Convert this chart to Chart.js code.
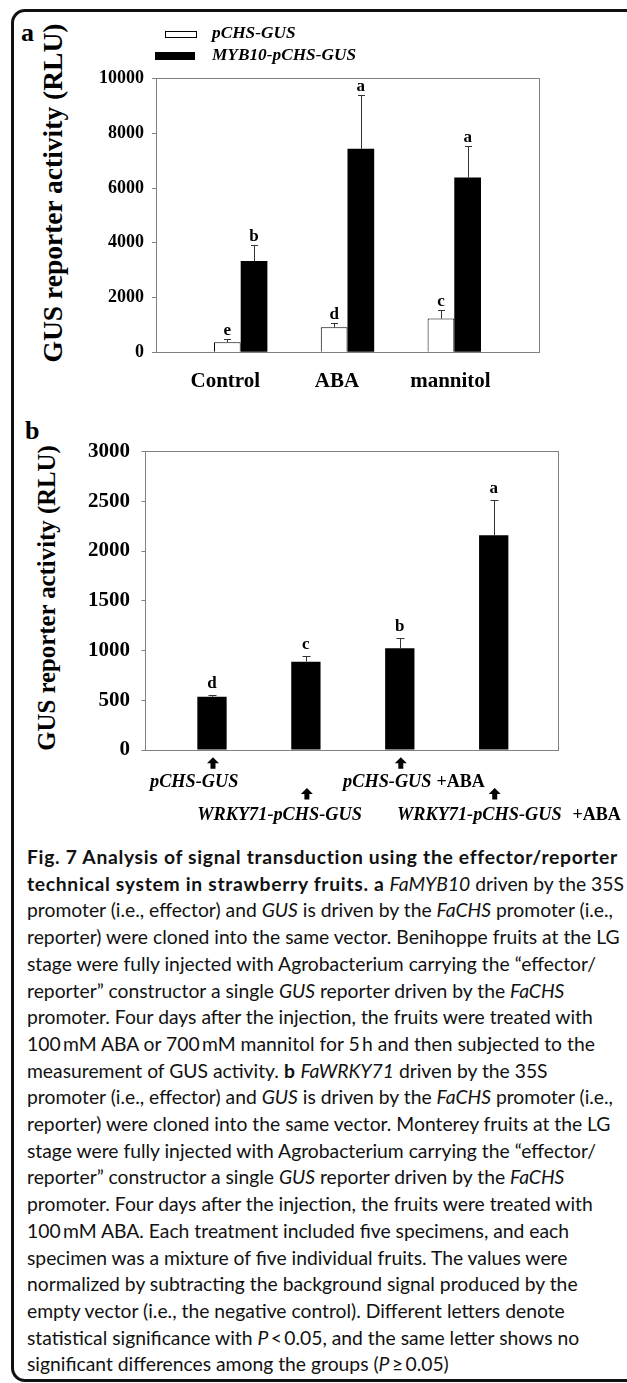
<!DOCTYPE html>
<html><head><meta charset="utf-8">
<script src="https://cdn.jsdelivr.net/npm/chart.js@4.4.1/dist/chart.umd.min.js"></script>
<style>
html,body{margin:0;padding:0;background:#fff;width:627px;height:1383px;overflow:hidden;position:relative;}
#frame{position:absolute;left:11px;top:9px;width:700px;height:1373px;border:3px solid #111;border-radius:14px;box-sizing:border-box;}
.plet{position:absolute;font-family:'Liberation Serif';font-weight:bold;font-size:26px;line-height:26px;color:#000;}
.ytitle{position:absolute;font-family:'Liberation Serif';font-weight:bold;white-space:nowrap;line-height:1;color:#000;transform:translate(-50%,-50%) rotate(-90deg);}
canvas{position:absolute;left:0;}
#cap{position:absolute;left:27px;top:844px;font-family:'Lato';line-height:26.7px;color:#111;white-space:nowrap;font-size:19.5px;}
#cap > div{display:block;width:max-content;}
</style></head>
<body>
<div id="frame"></div>
<div class="plet" style="left:21px;top:20px">a</div>
<div class="plet" style="left:25px;top:418px">b</div>
<div class="ytitle" style="left:53px;top:193px;font-size:27.5px">GUS reporter activity (RLU)</div>
<div class="ytitle" style="left:47px;top:598px;font-size:24.8px">GUS reporter activity (RLU)</div>
<canvas id="ca" width="627" height="400" style="top:0"></canvas>
<canvas id="cb" width="627" height="440" style="top:400px"></canvas>
<div id="cap">
<div id="l1"><b>Fig. 7 Analysis of signal transduction using the effector/reporter</b></div>
<div><b>technical system in strawberry fruits. a</b> <i>FaMYB10</i> driven by the 35S</div>
<div>promoter (i.e., effector) and <i>GUS</i> is driven by the <i>FaCHS</i> promoter (i.e.,</div>
<div id="l4">reporter) were cloned into the same vector. Benihoppe fruits at the LG</div>
<div>stage were fully injected with Agrobacterium carrying the “effector/</div>
<div>reporter” constructor a single <i>GUS</i> reporter driven by the <i>FaCHS</i></div>
<div>promoter. Four days after the injection, the fruits were treated with</div>
<div>100&#8201;mM ABA or 700&#8201;mM mannitol for 5&#8201;h and then subjected to the</div>
<div>measurement of GUS activity. <b>b</b> <i>FaWRKY71</i> driven by the 35S</div>
<div>promoter (i.e., effector) and <i>GUS</i> is driven by the <i>FaCHS</i> promoter (i.e.,</div>
<div>reporter) were cloned into the same vector. Monterey fruits at the LG</div>
<div>stage were fully injected with Agrobacterium carrying the “effector/</div>
<div>reporter” constructor a single <i>GUS</i> reporter driven by the <i>FaCHS</i></div>
<div>promoter. Four days after the injection, the fruits were treated with</div>
<div>100&#8201;mM ABA. Each treatment included five specimens, and each</div>
<div>specimen was a mixture of five individual fruits. The values were</div>
<div>normalized by subtracting the background signal produced by the</div>
<div>empty vector (i.e., the negative control). Different letters denote</div>
<div>statistical significance with <i>P</i>&#8201;&lt;&#8201;0.05, and the same letter shows no</div>
<div>significant differences among the groups (<i>P</i>&#8201;≥&#8201;0.05)</div>
</div>
<script>
// ---------- data: panel a ----------
const categoriesA = ['Control', 'ABA', 'mannitol'];
const seriesA = ['pCHS-GUS', 'MYB10-pCHS-GUS'];
const pchsValues = [370, 915, 1230];
const pchsErrors = [120, 160, 320];
const pchsLetters = ['e', 'd', 'c'];
const myb10Values = [3330, 7430, 6380];
const myb10Errors = [600, 1980, 1170];
const myb10Letters = ['b', 'a', 'a'];
const yTicksA = [0, 2000, 4000, 6000, 8000, 10000];

// ---------- data: panel b ----------
const categoriesB = ['pCHS-GUS', 'WRKY71-pCHS-GUS', 'pCHS-GUS', 'WRKY71-pCHS-GUS'];
const treatmentB = ['', '', '+ABA', '+ABA'];
const valuesB = [535, 888, 1022, 2158];
const errorsB = [20, 60, 100, 350];
const lettersB = ['d', 'c', 'b', 'a'];
const yTicksB = [0, 500, 1000, 1500, 2000, 2500, 3000];

// caption fit: regular text width from line 4, bold tracking from line 1
function fitCaption(){
  const cap = document.getElementById('cap');
  const l4 = document.getElementById('l4');
  const l1 = document.getElementById('l1');
  const bs = cap.querySelectorAll('b');
  bs.forEach(b => { b.style.letterSpacing = '0px'; });
  let fs = 19.5;
  for (let k = 0; k < 5; k++) {
    cap.style.fontSize = fs + 'px';
    const w4 = l4.getBoundingClientRect().width;
    fs = fs * 593 / w4;
  }
  cap.style.fontSize = fs + 'px';
  let ls = 0;
  for (let k = 0; k < 4; k++) {
    bs.forEach(b => { b.style.letterSpacing = ls + 'px'; });
    const w1 = l1.getBoundingClientRect().width;
    ls += (591 - w1) / l1.textContent.length;
  }
  bs.forEach(b => { b.style.letterSpacing = ls + 'px'; });
}
fitCaption();
if (document.fonts && document.fonts.ready) document.fonts.ready.then(fitCaption);
window.addEventListener('load', fitCaption);

Chart.defaults.font.family = "'Liberation Serif'";
Chart.defaults.color = '#000';
const AXIS = '#808080';

const framePlugin = {
  id: 'frame',
  beforeDatasetsDraw(chart) {
    const {ctx, chartArea: a} = chart;
    ctx.save();
    ctx.strokeStyle = AXIS; ctx.lineWidth = 1;
    const l = Math.floor(a.left) + 0.5, r = Math.floor(a.right) + 0.5, t = Math.floor(a.top) + 0.5, b = Math.floor(a.bottom) + 0.5;
    ctx.strokeRect(l, t, r - l, b - t);
    ctx.restore();
  }
};

const errorBarPlugin = {
  id: 'errbars',
  afterDatasetsDraw(chart, args, o) {
    const ctx = chart.ctx, ys = chart.scales.y;
    chart.data.datasets.forEach((ds, di) => {
      const meta = chart.getDatasetMeta(di);
      meta.data.forEach((bar, i) => {
        const v = ds.data[i].y, e = ds.errors[i];
        const yTop = ys.getPixelForValue(v + e);
        const x = Math.round(bar.x) + 0.5, yt = Math.round(yTop) + 0.5;
        ctx.save();
        ctx.strokeStyle = o.color; ctx.lineWidth = 1;
        ctx.beginPath();
        ctx.moveTo(x, bar.y); ctx.lineTo(x, yt);
        ctx.moveTo(x - o.cap / 2, yt); ctx.lineTo(x + o.cap / 2, yt);
        ctx.stroke();
        ctx.fillStyle = '#000'; ctx.font = o.font; ctx.textAlign = 'center'; ctx.textBaseline = 'alphabetic';
        ctx.fillText(ds.letters[i], bar.x, yTop - o.gap);
        ctx.restore();
      });
    });
  }
};

const legendAPlugin = {
  id: 'legendA',
  afterDraw(chart, args, o) {
    const ctx = chart.ctx;
    ctx.save();
    chart.data.datasets.forEach((ds, i) => {
      const it = o.items[i];
      ctx.fillStyle = ds.backgroundColor; ctx.fillRect(it.bx, it.by, it.bw, it.bh);
      ctx.strokeStyle = '#000'; ctx.lineWidth = 1; ctx.strokeRect(it.bx + 0.5, it.by + 0.5, it.bw - 1, it.bh - 1);
      ctx.font = o.font; ctx.fillStyle = '#000'; ctx.textAlign = 'left'; ctx.textBaseline = 'middle';
      ctx.fillText(ds.label, o.textX, it.ty);
    });
    ctx.restore();
  }
};

const xLabelsBPlugin = {
  id: 'xlabelsB',
  afterDraw(chart, args, o) {
    const ctx = chart.ctx, xs = chart.scales.x, bottom = chart.chartArea.bottom;
    ctx.save();
    ctx.fillStyle = '#000';
    categoriesB.forEach((name, i) => {
      const px = xs.getPixelForValue(i);
      const row = i % 2;
      const at = bottom + o.arrowTop[row], ax = px + 1;
      ctx.beginPath();
      ctx.moveTo(ax, at); ctx.lineTo(ax + 6, at + 6); ctx.lineTo(ax + 2.5, at + 6); ctx.lineTo(ax + 2.5, at + 11.5);
      ctx.lineTo(ax - 2.5, at + 11.5); ctx.lineTo(ax - 2.5, at + 6); ctx.lineTo(ax - 6, at + 6); ctx.closePath();
      ctx.fill();
      const ty = bottom + o.baseline[row];
      const tx = px + o.textShift[i];
      ctx.textAlign = 'left'; ctx.textBaseline = 'alphabetic';
      ctx.font = o.italicFont;
      ctx.fillText(name, tx, ty);
      if (treatmentB[i]) {
        const w = ctx.measureText(name).width;
        ctx.font = o.uprightFont;
        ctx.fillText(treatmentB[i], tx + w + o.suffixGap[i], ty);
      }
    });
    ctx.restore();
  }
};

// ---------- chart a ----------
const xLabelShiftA = [-0.144, -0.098, -0.036];
new Chart(document.getElementById('ca'), {
  type: 'bar',
  data: {
    datasets: [
      { label: seriesA[0], data: pchsValues.map((v, i) => ({x: i, y: v})), errors: pchsErrors, letters: pchsLetters,
        backgroundColor: '#ffffff', borderColor: '#000000', borderWidth: 1, categoryPercentage: 0.5, barPercentage: 1 },
      { label: seriesA[1], data: myb10Values.map((v, i) => ({x: i, y: v})), errors: myb10Errors, letters: myb10Letters,
        backgroundColor: '#000000', borderColor: '#000000', borderWidth: 0, categoryPercentage: 0.5, barPercentage: 1 }
    ]
  },
  options: {
    responsive: false, animation: false, events: [],
    layout: { padding: { left: 0, top: 78.5, right: 87.7, bottom: 5.7 } },
    plugins: {
      legend: { display: false }, tooltip: { enabled: false },
      errbars: { color: '#333', cap: 7, gap: 4, font: "bold 17px 'Liberation Serif'" },
      legendA: { font: "italic bold 17.3px 'Liberation Serif'", textX: 212,
        items: [ {bx: 165, by: 31, bw: 32, bh: 7, ty: 34}, {bx: 155, by: 52, bw: 40, bh: 8, ty: 56} ] }
    },
    scales: {
      x: {
        type: 'linear', offset: false, min: -0.793, max: 2.796, bounds: 'data',
        grid: { display: false, drawTicks: false }, border: { display: false },
        afterBuildTicks: s => { s.ticks = categoriesA.map((c, i) => ({ value: i + xLabelShiftA[i] })); },
        afterFit: s => { s.height = 42; },
        ticks: { autoSkip: false, maxRotation: 0, padding: 17, font: { size: 21, weight: 'bold' }, color: '#000',
          callback: (v, idx) => categoriesA[idx] }
      },
      y: {
        min: 0, max: 10000,
        afterBuildTicks: s => { s.ticks = yTicksA.map(v => ({ value: v })); },
        afterFit: s => { s.width = 156; },
        grid: { drawOnChartArea: false, drawTicks: true, tickLength: 4, color: AXIS },
        border: { display: false },
        ticks: { padding: 8, font: { size: 18, weight: 'bold' }, color: '#000', callback: v => String(v) }
      }
    }
  },
  plugins: [framePlugin, errorBarPlugin, legendAPlugin]
});

// ---------- chart b ----------
new Chart(document.getElementById('cb'), {
  type: 'bar',
  data: {
    datasets: [
      { label: 'GUS', data: valuesB.map((v, i) => ({x: i, y: v})), errors: errorsB, letters: lettersB,
        backgroundColor: '#000000', borderWidth: 0, categoryPercentage: 0.312, barPercentage: 1 }
    ]
  },
  options: {
    responsive: false, animation: false, events: [],
    layout: { padding: { left: 0, top: 51.5, right: 68.3, bottom: 90 } },
    plugins: {
      legend: { display: false }, tooltip: { enabled: false },
      errbars: { color: '#333', cap: 8, gap: 7, font: "bold 17px 'Liberation Serif'" },
      xlabelsB: {
        arrowTop: [7.3, 38], baseline: [36.7, 70],
        textShift: [-62, -108.6, -56.7, -96.7], suffixGap: [0, 0, 5, 11],
        italicFont: "italic bold 18.3px 'Liberation Serif'", uprightFont: "bold 18px 'Liberation Serif'"
      }
    },
    scales: {
      x: {
        type: 'linear', offset: false, min: -0.708, max: 3.692, bounds: 'data',
        grid: { display: false, drawTicks: false }, border: { display: false },
        afterBuildTicks: s => { s.ticks = categoriesB.map((c, i) => ({ value: i })); },
        afterFit: s => { s.height = 0; },
        ticks: { display: false }
      },
      y: {
        min: 0, max: 3000,
        afterBuildTicks: s => { s.ticks = yTicksB.map(v => ({ value: v })); },
        afterFit: s => { s.width = 145.5; },
        grid: { drawOnChartArea: false, drawTicks: true, tickLength: 4, color: AXIS },
        border: { display: false },
        ticks: { padding: 11.5, font: { size: 21, weight: 'bold' }, color: '#000', callback: v => String(v) }
      }
    }
  },
  plugins: [framePlugin, errorBarPlugin, xLabelsBPlugin]
});
</script>
</body></html>
